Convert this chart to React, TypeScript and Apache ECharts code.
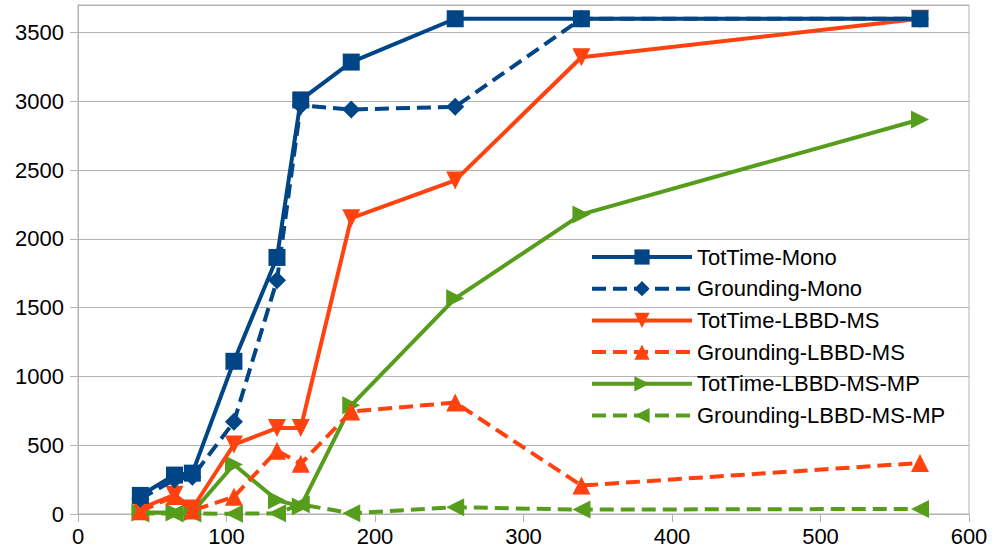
import React, { useEffect, useRef } from "react";
import * as echarts from "echarts";

const xValues = [42, 65, 77, 105, 134, 150, 184, 254, 339, 567];
const totTimeMono = [135, 283, 297, 1110, 1865, 3010, 3285, 3600, 3600, 3600];
const groundingMono = [110, 250, 270, 670, 1700, 2970, 2940, 2960, 3600, 3600];
const totTimeLBBDMS = [40, 140, 40, 505, 625, 625, 2150, 2425, 3320, 3600];
const groundingLBBDMS = [20, 130, 25, 125, 460, 365, 745, 810, 207, 371];
const totTimeLBBDMSMP = [10, 10, 12, 360, 100, 55, 790, 1568, 2178, 2868];
const groundingLBBDMSMP = [3, 3, 3, 2, 5, 70, 5, 49, 32, 37];

const seriesNames = [
  "TotTime-Mono",
  "Grounding-Mono",
  "TotTime-LBBD-MS",
  "Grounding-LBBD-MS",
  "TotTime-LBBD-MS-MP",
  "Grounding-LBBD-MS-MP",
];

const BLUE = "#004586";
const ORANGE = "#ff420e";
const GREEN = "#579d1c";

function pairs(ys: number[]) {
  return xValues.map((x, i) => [x, ys[i]]);
}

export default function App() {
  const ref = useRef<HTMLDivElement>(null);
  useEffect(() => {
    document.body.style.margin = "0";
    if (!ref.current) return;
    const chart = echarts.init(ref.current, undefined, { renderer: "svg" });
    const font = "Liberation Sans";
    const mk = (
      idx: number,
      data: number[],
      color: string,
      dashed: boolean,
      symbol: string,
      size: number,
      rotate = 0
    ) => ({
      name: seriesNames[idx],
      type: "line",
      z: 10 - idx,
      data: pairs(data),
      symbol,
      symbolSize: size,
      symbolRotate: rotate,
      showAllSymbol: true,
      lineStyle: { color, width: 4, type: dashed ? [14, 7] : "solid" },
      itemStyle: { color, borderWidth: 0 },
      emphasis: { disabled: true },
    });
    chart.setOption({
      animation: false,
      textStyle: { fontFamily: font },
      grid: {
        left: 78,
        right: 25,
        top: 5,
        bottom: 44,
        show: true,
        borderColor: "#b3b3b3",
        borderWidth: 1,
      },
      xAxis: {
        type: "value",
        min: 0,
        max: 600,
        interval: 100,
        axisLine: { show: true, lineStyle: { color: "#b3b3b3", width: 1 } },
        axisTick: { show: true, length: 8, lineStyle: { color: "#b3b3b3" } },
        splitLine: { show: false },
        axisLabel: { color: "#000", fontSize: 22, margin: 11, fontFamily: font },
      },
      yAxis: {
        type: "value",
        min: 0,
        max: 3700,
        interval: 500,
        axisLine: { show: true, lineStyle: { color: "#b3b3b3", width: 1 } },
        axisTick: { show: true, length: 8, lineStyle: { color: "#b3b3b3" } },
        splitLine: { show: true, lineStyle: { color: "#b3b3b3", width: 1 } },
        axisLabel: {
          color: "#000",
          fontSize: 22,
          margin: 14,
          fontFamily: font,
          showMaxLabel: false,
          formatter: (v: number) => String(v),
        },
      },
      legend: {
        orient: "vertical",
        left: 585,
        top: 241,
        itemWidth: 100,
        itemHeight: 19,
        itemGap: 9.7,
        data: seriesNames,
        lineStyle: { width: 4 },
        textStyle: { color: "#000", fontSize: 22, fontFamily: font },
      },
      series: [
        mk(0, totTimeMono, BLUE, false, "rect", 17),
        mk(1, groundingMono, BLUE, true, "diamond", 18),
        mk(2, totTimeLBBDMS, ORANGE, false, "triangle", 18, 180),
        mk(3, groundingLBBDMS, ORANGE, true, "triangle", 18, 0),
        mk(4, totTimeLBBDMSMP, GREEN, false, "triangle", 18, -90),
        mk(5, groundingLBBDMSMP, GREEN, true, "triangle", 18, 90),
      ],
    });
    return () => chart.dispose();
  }, []);
  return <div ref={ref} style={{ width: 994, height: 558 }} />;
}
